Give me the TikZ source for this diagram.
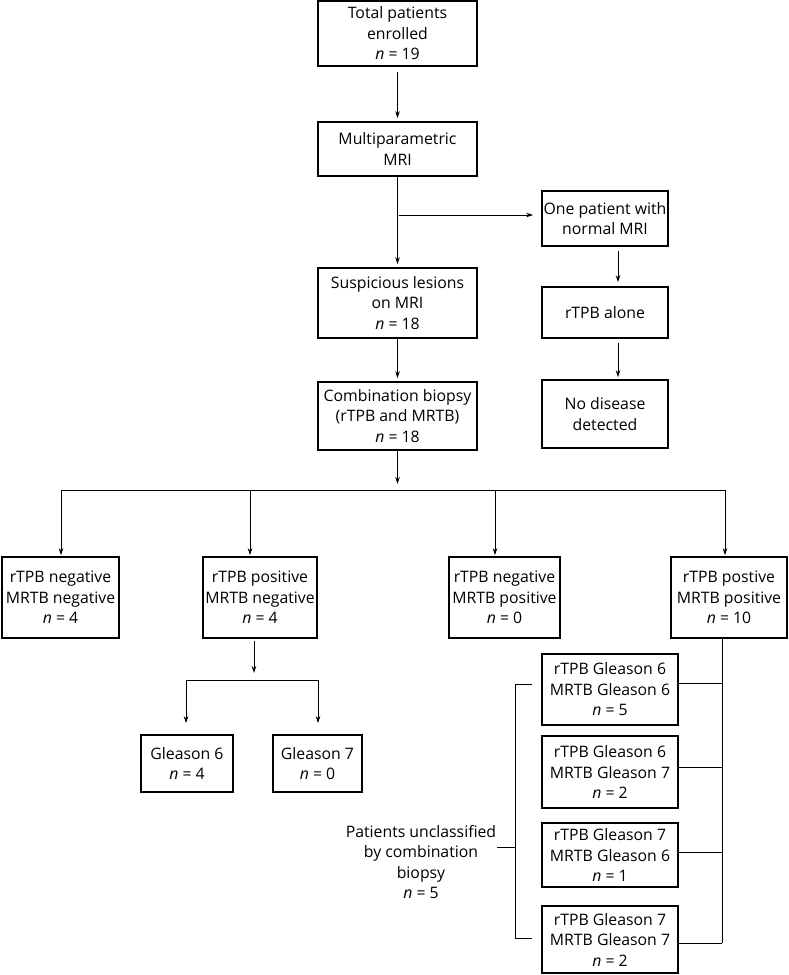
\documentclass[tikz,border=0pt]{standalone}
\usepackage{fontspec}
\setmainfont{Open Sans}
\usetikzlibrary{arrows.meta}
\begin{document}
\begin{tikzpicture}[x=1pt,y=-1pt,
  box/.style={draw, line width=1.7pt, align=center, inner sep=0pt, font=\fontsize{15.8}{20.5}\selectfont},
  lbl/.style={align=center, inner sep=0pt, font=\fontsize{15.8}{20.5}\selectfont},
  conn/.style={line width=1pt},
  arr/.style={conn, -{Stealth[length=7pt,width=4.5pt]}}]
\useasboundingbox (0,0) rectangle (788,975);
% main column
\node[box, minimum width=159pt, minimum height=65pt] (total) at (397.5,33.5) {Total patients\\enrolled\\\textit{n} = 19};
\node[box, minimum width=159pt, minimum height=54pt] (mri) at (397.5,149) {Multiparametric\\MRI};
\node[box, minimum width=159pt, minimum height=70pt] (susp) at (397.5,303) {Suspicious lesions\\on MRI\\\textit{n} = 18};
\node[box, minimum width=159pt, minimum height=68pt] (comb) at (397.5,416) {Combination biopsy\\(rTPB and MRTB)\\\textit{n} = 18};
% side column
\node[box, minimum width=126pt, minimum height=55pt] (one) at (605,218.5) {One patient with\\normal MRI};
\node[box, minimum width=126pt, minimum height=51pt] (alone) at (605,312.5) {rTPB alone};
\node[box, minimum width=126pt, minimum height=68pt] (nodis) at (605,414) {No disease\\detected};
% row of four
\node[box, minimum width=117pt, minimum height=81pt] (r1) at (60.5,597.5) {rTPB negative\\MRTB negative\\\textit{n} = 4};
\node[box, minimum width=114pt, minimum height=81pt] (r2) at (260,597.5) {rTPB positive\\MRTB negative\\\textit{n} = 4};
\node[box, minimum width=111pt, minimum height=81pt] (r3) at (504.5,597.5) {rTPB negative\\MRTB positive\\\textit{n} = 0};
\node[box, minimum width=116pt, minimum height=81pt] (r4) at (729,597.5) {rTPB postive\\MRTB positive\\\textit{n} = 10};
% gleason
\node[box, minimum width=92pt, minimum height=57pt] (g6) at (187,763.5) {Gleason 6\\\textit{n} = 4};
\node[box, minimum width=89pt, minimum height=57pt] (g7) at (317.5,763.5) {Gleason 7\\\textit{n} = 0};
% small boxes
\node[box, minimum width=136pt, minimum height=71pt] (sA) at (610,689.5) {rTPB Gleason 6\\MRTB Gleason 6\\\textit{n} = 5};
\node[box, minimum width=136pt, minimum height=72pt] (sB) at (610,772) {rTPB Gleason 6\\MRTB Gleason 7\\\textit{n} = 2};
\node[box, minimum width=136pt, minimum height=64pt] (sC) at (610,855) {rTPB Gleason 7\\MRTB Gleason 6\\\textit{n} = 1};
\node[box, minimum width=136pt, minimum height=67pt] (sD) at (610,939.5) {rTPB Gleason 7\\MRTB Gleason 7\\\textit{n} = 2};
\node[lbl] (unc) at (421,862) {Patients unclassified\\by combination\\biopsy\\\textit{n} = 5};
% connectors
\draw[arr, shorten <=5pt, shorten >=3pt] (total) -- (mri);
\coordinate (b1) at (398.5,215);
\draw[arr, shorten >=3pt] (mri) -- (susp);
\draw[arr, shorten >=8pt] (b1) -- (b1 -| one.west);
\draw[arr, shorten <=4pt, shorten >=4pt] (one.south -| 618,0) -- (alone.north -| 618,0);
\draw[arr, shorten <=4pt, shorten >=2pt] (alone.south -| 618,0) -- (nodis.north -| 618,0);
\draw[arr, shorten >=3pt] (susp) -- (comb);
\coordinate (busL) at (61,490);
\coordinate (busR) at (725,490);
\coordinate (bus2) at (250,490);
\coordinate (bus3) at (495,490);
\draw[conn] (busL) -- (busR);
\draw[arr, shorten >=6pt] (comb) -- (comb.south |- busL);
\draw[arr, shorten >=1pt] (busL) -- (busL |- r1.north);
\draw[arr, shorten >=1pt] (bus2) -- (bus2 |- r2.north);
\draw[arr, shorten >=1pt] (bus3) -- (bus3 |- r3.north);
\draw[arr, shorten >=1pt] (busR) -- (busR |- r4.north);
\coordinate (sb) at (254,680);
\coordinate (sbL) at (186,680);
\coordinate (sbR) at (318,680);
\draw[arr, shorten <=2pt, shorten >=7pt] (r2.south -| sb) -- (sb);
\draw[conn] (sbL) -- (sbR);
\draw[arr, shorten >=11pt] (sbL) -- (sbL |- g6.north);
\draw[arr, shorten >=11pt] (sbR) -- (sbR |- g7.north);
\coordinate (rv) at (722,943);
\draw[conn] (r4.south -| rv) -- (rv);
\draw[conn] (sA.east |- 0,683) -- (rv |- 0,683);
\draw[conn] (sB.east |- 0,767) -- (rv |- 0,767);
\draw[conn] (sC.east |- 0,852) -- (rv |- 0,852);
\draw[conn] (sD.east |- rv) -- (rv);
\coordinate (brT) at (532,684);
\coordinate (brB) at (532,938);
\coordinate (brM) at (515,847);
\draw[conn] (brT) -- (515,684) -- (515,938) -- (brB);
\draw[conn] (brM) -- (brM -| 497,0);
\end{tikzpicture}
\end{document}
